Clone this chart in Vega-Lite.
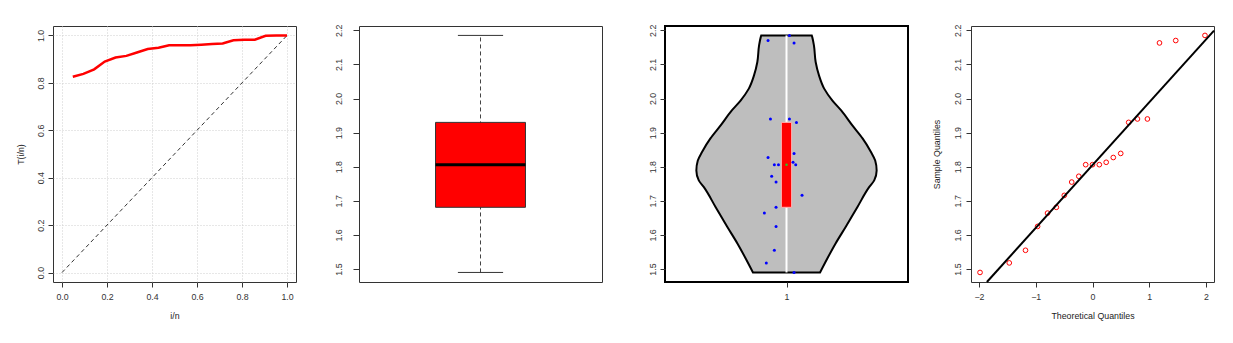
{
  "$schema": "https://vega.github.io/schema/vega-lite/v6.json",
  "background": "white",
  "padding": {"left": 15, "top": 23, "right": 5, "bottom": 5},
  "bounds": "flush",
  "spacing": 63,
  "datasets": {
    "sample": [
      {"v": 1.490, "q": -1.981, "jx": 1.031},
      {"v": 1.518, "q": -1.466, "jx": 0.917},
      {"v": 1.555, "q": -1.180, "jx": 0.950},
      {"v": 1.625, "q": -0.967, "jx": 0.957},
      {"v": 1.664, "q": -0.792, "jx": 0.909},
      {"v": 1.681, "q": -0.637, "jx": 0.957},
      {"v": 1.716, "q": -0.497, "jx": 1.064},
      {"v": 1.755, "q": -0.366, "jx": 0.957},
      {"v": 1.772, "q": -0.241, "jx": 0.939},
      {"v": 1.806, "q": -0.120, "jx": 0.950},
      {"v": 1.806, "q": 0.000, "jx": 0.967},
      {"v": 1.806, "q": 0.120, "jx": 1.038},
      {"v": 1.813, "q": 0.241, "jx": 1.027},
      {"v": 1.827, "q": 0.366, "jx": 0.924},
      {"v": 1.839, "q": 0.497, "jx": 1.031},
      {"v": 1.930, "q": 0.637, "jx": 1.041},
      {"v": 1.940, "q": 0.792, "jx": 0.934},
      {"v": 1.940, "q": 0.967, "jx": 1.012},
      {"v": 2.163, "q": 1.180, "jx": 1.031},
      {"v": 2.170, "q": 1.466, "jx": 0.924},
      {"v": 2.185, "q": 1.981, "jx": 1.012}
    ],
    "ttt": [
      {"p": 0.048, "t": 0.826}, {"p": 0.095, "t": 0.838}, {"p": 0.143, "t": 0.857},
      {"p": 0.190, "t": 0.890}, {"p": 0.238, "t": 0.907}, {"p": 0.286, "t": 0.914},
      {"p": 0.333, "t": 0.928}, {"p": 0.381, "t": 0.943}, {"p": 0.429, "t": 0.948},
      {"p": 0.476, "t": 0.959}, {"p": 0.524, "t": 0.959}, {"p": 0.571, "t": 0.959},
      {"p": 0.619, "t": 0.961}, {"p": 0.667, "t": 0.964}, {"p": 0.714, "t": 0.966},
      {"p": 0.762, "t": 0.980}, {"p": 0.810, "t": 0.982}, {"p": 0.857, "t": 0.982},
      {"p": 0.905, "t": 0.999}, {"p": 0.952, "t": 1.000}, {"p": 1.000, "t": 1.000}
    ],
    "diag": [{"p": 0, "t": 0}, {"p": 1, "t": 1}],
    "qqline": [{"q": -1.86, "v": 1.462}, {"q": 2.14, "v": 2.199}],
    "violin": [
      {"v": 2.185, "lo": 0.896, "hi": 1.104},
      {"v": 2.180, "lo": 0.894, "hi": 1.106},
      {"v": 2.155, "lo": 0.887, "hi": 1.113},
      {"v": 2.107, "lo": 0.880, "hi": 1.120},
      {"v": 2.067, "lo": 0.866, "hi": 1.134},
      {"v": 2.029, "lo": 0.845, "hi": 1.155},
      {"v": 1.994, "lo": 0.811, "hi": 1.189},
      {"v": 1.965, "lo": 0.775, "hi": 1.225},
      {"v": 1.921, "lo": 0.729, "hi": 1.271},
      {"v": 1.883, "lo": 0.687, "hi": 1.313},
      {"v": 1.844, "lo": 0.653, "hi": 1.347},
      {"v": 1.818, "lo": 0.635, "hi": 1.365},
      {"v": 1.789, "lo": 0.629, "hi": 1.371},
      {"v": 1.760, "lo": 0.639, "hi": 1.361},
      {"v": 1.740, "lo": 0.660, "hi": 1.340},
      {"v": 1.682, "lo": 0.708, "hi": 1.292},
      {"v": 1.624, "lo": 0.756, "hi": 1.244},
      {"v": 1.575, "lo": 0.798, "hi": 1.202},
      {"v": 1.531, "lo": 0.832, "hi": 1.168},
      {"v": 1.490, "lo": 0.862, "hi": 1.138}
    ]
  },
  "hconcat": [
    {
      "width": 243, "height": 256,
      "layer": [
        {
          "data": {"name": "diag"},
          "mark": {"type": "line", "color": "#333", "strokeWidth": 1, "strokeDash": [4, 3]},
          "encoding": {
            "x": {"field": "p", "type": "quantitative", "scale": {"domain": [-0.04, 1.04], "nice": false, "zero": false},
                  "axis": {"values": [0, 0.2, 0.4, 0.6, 0.8, 1.0], "tickCount": 10, "format": ".1f", "title": "i/n", "grid": true, "gridDash": [1, 2], "gridColor": "#cfcfcf"}},
            "y": {"field": "t", "type": "quantitative", "scale": {"domain": [-0.04, 1.04], "nice": false, "zero": false},
                  "axis": {"values": [0, 0.2, 0.4, 0.6, 0.8, 1.0], "tickCount": 10, "format": ".1f", "title": "T(i/n)", "titlePadding": 11, "grid": true, "gridDash": [1, 2], "gridColor": "#cfcfcf"}}
          }
        },
        {
          "data": {"name": "ttt"},
          "mark": {"type": "line", "color": "#ff0000", "strokeWidth": 2.5},
          "encoding": {
            "x": {"field": "p", "type": "quantitative"},
            "y": {"field": "t", "type": "quantitative"}
          }
        }
      ]
    },
    {
      "width": 243, "height": 256,
      "data": {"name": "sample"},
      "transform": [
        {"aggregate": [
          {"op": "min", "field": "v", "as": "lo"},
          {"op": "max", "field": "v", "as": "hi"},
          {"op": "q1", "field": "v", "as": "q1"},
          {"op": "q3", "field": "v", "as": "q3"},
          {"op": "median", "field": "v", "as": "med"}
        ]}
      ],
      "layer": [
        {
          "mark": {"type": "rule", "color": "#444", "strokeWidth": 1, "strokeDash": [4, 3]},
          "encoding": {
            "x": {"datum": 1, "type": "quantitative", "scale": {"domain": [0.5, 1.5], "nice": false, "zero": false}, "axis": null},
            "y": {"field": "lo", "type": "quantitative", "scale": {"domain": [1.462, 2.2126], "nice": false, "zero": false},
                  "axis": {"values": [1.5, 1.6, 1.7, 1.8, 1.9, 2.0, 2.1, 2.2], "tickCount": 10, "format": ".1f", "title": null, "tickSize": 6, "labelPadding": 10}},
            "y2": {"field": "hi"}
          }
        },
        {
          "mark": {"type": "rule", "color": "#333", "strokeWidth": 1},
          "encoding": {
            "x": {"datum": 0.907, "type": "quantitative"},
            "x2": {"datum": 1.093},
            "y": {"field": "lo", "type": "quantitative"}
          }
        },
        {
          "mark": {"type": "rule", "color": "#333", "strokeWidth": 1},
          "encoding": {
            "x": {"datum": 0.907, "type": "quantitative"},
            "x2": {"datum": 1.093},
            "y": {"field": "hi", "type": "quantitative"}
          }
        },
        {
          "mark": {"type": "rect", "fill": "#ff0000", "stroke": "#333", "strokeWidth": 1},
          "encoding": {
            "x": {"datum": 0.815, "type": "quantitative"},
            "x2": {"datum": 1.185},
            "y": {"field": "q1", "type": "quantitative"},
            "y2": {"field": "q3"}
          }
        },
        {
          "mark": {"type": "rule", "color": "#000", "strokeWidth": 3},
          "encoding": {
            "x": {"datum": 0.815, "type": "quantitative"},
            "x2": {"datum": 1.185},
            "y": {"field": "med", "type": "quantitative"}
          }
        }
      ]
    },
    {
      "width": 243, "height": 256,
      "view": {"stroke": "#000", "strokeWidth": 2},
      "layer": [
        {
          "data": {"name": "violin"},
          "mark": {"type": "area", "orient": "horizontal", "interpolate": "monotone", "fill": "#bebebe", "stroke": "#000", "strokeWidth": 2},
          "encoding": {
            "y": {"field": "v", "type": "quantitative", "scale": {"domain": [1.462, 2.2126], "nice": false, "zero": false},
                  "axis": {"values": [1.5, 1.6, 1.7, 1.8, 1.9, 2.0, 2.1, 2.2], "tickCount": 10, "format": ".1f", "title": null}},
            "x": {"field": "lo", "type": "quantitative", "scale": {"domain": [0.5, 1.5], "nice": false, "zero": false},
                  "axis": {"values": [1], "format": "d", "title": null}},
            "x2": {"field": "hi"}
          }
        },
        {
          "data": {"name": "sample"},
          "transform": [
            {"aggregate": [
              {"op": "min", "field": "v", "as": "lo"},
              {"op": "max", "field": "v", "as": "hi"},
              {"op": "q1", "field": "v", "as": "q1"},
              {"op": "q3", "field": "v", "as": "q3"},
              {"op": "median", "field": "v", "as": "med"}
            ]}
          ],
          "layer": [
            {
              "mark": {"type": "rule", "color": "#ffffff", "strokeWidth": 2},
              "encoding": {
                "x": {"datum": 1, "type": "quantitative"},
                "y": {"field": "lo", "type": "quantitative"},
                "y2": {"field": "hi"}
              }
            },
            {
              "mark": {"type": "rect", "fill": "#ff0000", "stroke": "#ffb0b0", "strokeWidth": 1},
              "encoding": {
                "x": {"datum": 0.979, "type": "quantitative"},
                "x2": {"datum": 1.021},
                "y": {"field": "q1", "type": "quantitative"},
                "y2": {"field": "q3"}
              }
            },
            {
              "mark": {"type": "point", "filled": true, "color": "#22cc22", "size": 6, "opacity": 1},
              "encoding": {
                "x": {"datum": 1, "type": "quantitative"},
                "y": {"field": "med", "type": "quantitative"}
              }
            }
          ]
        },
        {
          "data": {"name": "sample"},
          "mark": {"type": "point", "filled": true, "color": "#0000ff", "size": 9, "opacity": 1},
          "encoding": {
            "x": {"field": "jx", "type": "quantitative"},
            "y": {"field": "v", "type": "quantitative"}
          }
        }
      ]
    },
    {
      "width": 243, "height": 256,
      "layer": [
        {
          "data": {"name": "sample"},
          "mark": {"type": "point", "shape": "circle", "filled": false, "color": "#ff0000", "size": 22, "strokeWidth": 1, "opacity": 1},
          "encoding": {
            "x": {"field": "q", "type": "quantitative", "scale": {"domain": [-2.14, 2.14], "nice": false, "zero": false},
                  "axis": {"values": [-2, -1, 0, 1, 2], "tickCount": 10, "format": "d", "title": "Theoretical Quantiles"}},
            "y": {"field": "v", "type": "quantitative", "scale": {"domain": [1.462, 2.2126], "nice": false, "zero": false},
                  "axis": {"values": [1.5, 1.6, 1.7, 1.8, 1.9, 2.0, 2.1, 2.2], "tickCount": 10, "format": ".1f", "title": "Sample Quantiles", "labelPadding": 4, "titlePadding": 12}}
          }
        },
        {
          "data": {"name": "qqline"},
          "mark": {"type": "line", "color": "#000", "strokeWidth": 2},
          "encoding": {
            "x": {"field": "q", "type": "quantitative"},
            "y": {"field": "v", "type": "quantitative"}
          }
        }
      ]
    }
  ],
  "config": {
    "font": "Liberation Sans",
    "view": {"stroke": "#333", "strokeWidth": 1},
    "axis": {
      "domain": false, "grid": false, "labelFontSize": 8.8, "labelColor": "#333",
      "tickColor": "#333", "tickSize": 5, "titleFontSize": 8.8, "titleFontWeight": "normal",
      "titleColor": "#222", "labelFont": "Liberation Sans", "titleFont": "Liberation Sans",
      "labelFlush": false, "labelOverlap": false
    },
    "axisY": {"labelAngle": -90, "labelAlign": "center", "labelBaseline": "bottom", "labelPadding": 3, "titlePadding": 11},
    "axisX": {"labelPadding": 5, "titlePadding": 11}
  }
}
